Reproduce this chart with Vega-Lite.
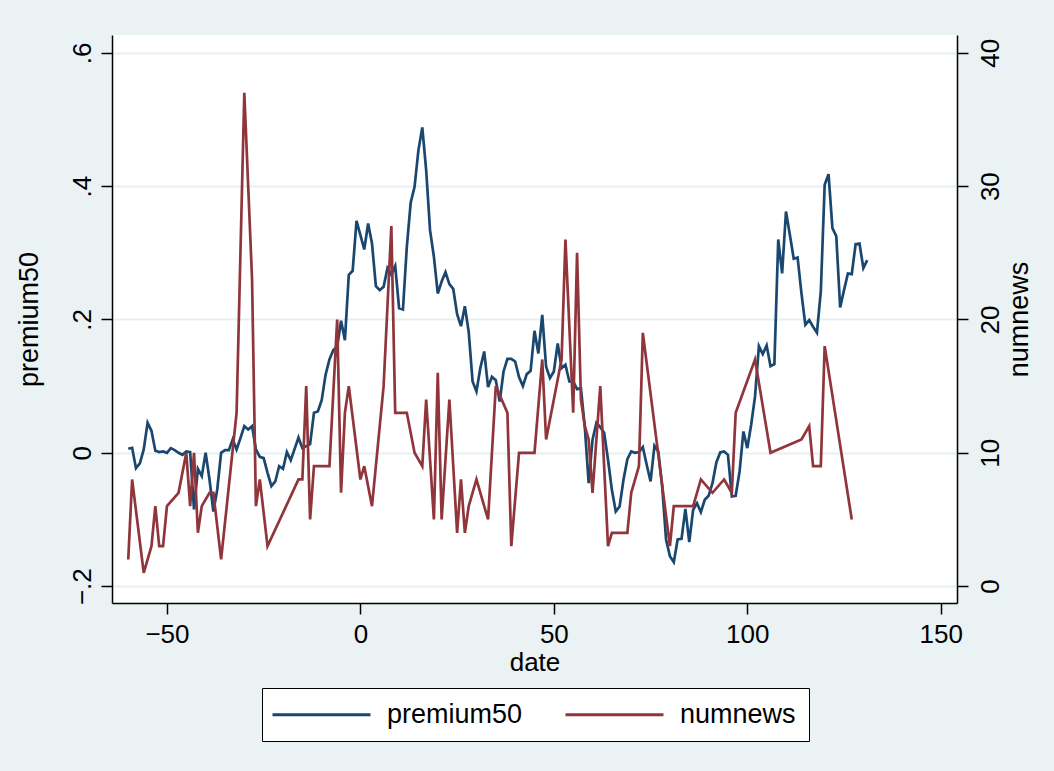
{
  "$schema": "https://vega.github.io/schema/vega-lite/v6.json",
  "autosize": {"type": "none"},
  "width": 845,
  "height": 568,
  "padding": {"left": 112, "top": 35, "right": 97, "bottom": 168},
  "background": "#EAF2F3",
  "config": {
    "view": {"fill": "white", "stroke": null},
    "font": "Liberation Sans",
    "axis": {
      "labelFont": "Liberation Sans",
      "titleFont": "Liberation Sans",
      "labelFontSize": 26,
      "titleFontSize": 26,
      "titleFontWeight": "normal",
      "labelColor": "black",
      "titleColor": "black",
      "domainColor": "black",
      "tickColor": "black",
      "domainWidth": 1.5,
      "tickWidth": 1.5,
      "tickSize": 11
    },
    "legend": {
      "orient": "none",
      "legendX": 150,
      "legendY": 653,
      "direction": "horizontal",
      "strokeColor": "black",
      "fillColor": "white",
      "padding": 13,
      "symbolType": "M-5,0H5",
      "symbolSize": 384,
      "symbolOffset": 33,
      "symbolStrokeWidth": 2.8,
      "labelFont": "Liberation Sans",
      "labelFontSize": 27,
      "labelColor": "black",
      "labelOffset": 52,
      "columnPadding": 36,
      "labelLimit": 0
    }
  },
  "datasets": {
    "premium": [
      {"date": -60, "premium50": 0.006}, {"date": -59, "premium50": 0.0075}, {"date": -58, "premium50": -0.023}, {"date": -57, "premium50": -0.016},
      {"date": -56, "premium50": 0.005}, {"date": -55, "premium50": 0.045}, {"date": -54, "premium50": 0.033}, {"date": -53, "premium50": 0.003},
      {"date": -52, "premium50": 0.001}, {"date": -51, "premium50": 0.002}, {"date": -50, "premium50": 0.0}, {"date": -49, "premium50": 0.007},
      {"date": -48, "premium50": 0.004}, {"date": -47, "premium50": 0.0}, {"date": -46, "premium50": -0.003}, {"date": -45, "premium50": 0.002},
      {"date": -44, "premium50": 0.001}, {"date": -43, "premium50": -0.085}, {"date": -42, "premium50": -0.024}, {"date": -41, "premium50": -0.035},
      {"date": -40, "premium50": 0.0}, {"date": -39, "premium50": -0.04}, {"date": -38, "premium50": -0.088}, {"date": -37, "premium50": -0.055},
      {"date": -36, "premium50": 0.0}, {"date": -35, "premium50": 0.004}, {"date": -34, "premium50": 0.004}, {"date": -33, "premium50": 0.02},
      {"date": -32, "premium50": 0.005}, {"date": -31, "premium50": 0.022}, {"date": -30, "premium50": 0.04}, {"date": -29, "premium50": 0.035},
      {"date": -28, "premium50": 0.04}, {"date": -27, "premium50": 0.005}, {"date": -26, "premium50": -0.006}, {"date": -25, "premium50": -0.008},
      {"date": -24, "premium50": -0.03}, {"date": -23, "premium50": -0.05}, {"date": -22, "premium50": -0.043}, {"date": -21, "premium50": -0.02},
      {"date": -20, "premium50": -0.024}, {"date": -19, "premium50": 0.001}, {"date": -18, "premium50": -0.011}, {"date": -16, "premium50": 0.023},
      {"date": -15, "premium50": 0.007}, {"date": -13, "premium50": 0.013}, {"date": -12, "premium50": 0.06}, {"date": -11, "premium50": 0.062},
      {"date": -10, "premium50": 0.079}, {"date": -9, "premium50": 0.117}, {"date": -8, "premium50": 0.14}, {"date": -7, "premium50": 0.154},
      {"date": -6, "premium50": 0.159}, {"date": -5, "premium50": 0.198}, {"date": -4, "premium50": 0.169}, {"date": -3, "premium50": 0.267},
      {"date": -2, "premium50": 0.273}, {"date": -1, "premium50": 0.348}, {"date": 1, "premium50": 0.305}, {"date": 2, "premium50": 0.344},
      {"date": 3, "premium50": 0.314}, {"date": 4, "premium50": 0.25}, {"date": 5, "premium50": 0.244}, {"date": 6, "premium50": 0.249},
      {"date": 7, "premium50": 0.277}, {"date": 8, "premium50": 0.267}, {"date": 9, "premium50": 0.28}, {"date": 10, "premium50": 0.217},
      {"date": 11, "premium50": 0.215}, {"date": 12, "premium50": 0.309}, {"date": 13, "premium50": 0.375}, {"date": 14, "premium50": 0.399},
      {"date": 15, "premium50": 0.454}, {"date": 16, "premium50": 0.488}, {"date": 17, "premium50": 0.424}, {"date": 18, "premium50": 0.334},
      {"date": 19, "premium50": 0.294}, {"date": 20, "premium50": 0.239}, {"date": 21, "premium50": 0.257}, {"date": 22, "premium50": 0.271},
      {"date": 23, "premium50": 0.253}, {"date": 24, "premium50": 0.246}, {"date": 25, "premium50": 0.208}, {"date": 26, "premium50": 0.19},
      {"date": 27, "premium50": 0.22}, {"date": 28, "premium50": 0.181}, {"date": 29, "premium50": 0.107}, {"date": 30, "premium50": 0.092},
      {"date": 31, "premium50": 0.127}, {"date": 32, "premium50": 0.152}, {"date": 33, "premium50": 0.0985}, {"date": 34, "premium50": 0.114},
      {"date": 35, "premium50": 0.109}, {"date": 36, "premium50": 0.077}, {"date": 37, "premium50": 0.122}, {"date": 38, "premium50": 0.141},
      {"date": 39, "premium50": 0.141}, {"date": 40, "premium50": 0.137}, {"date": 41, "premium50": 0.1135}, {"date": 42, "premium50": 0.1},
      {"date": 43, "premium50": 0.118}, {"date": 44, "premium50": 0.123}, {"date": 45, "premium50": 0.183}, {"date": 46, "premium50": 0.149},
      {"date": 47, "premium50": 0.207}, {"date": 48, "premium50": 0.129}, {"date": 49, "premium50": 0.112}, {"date": 50, "premium50": 0.122},
      {"date": 51, "premium50": 0.164}, {"date": 52, "premium50": 0.127}, {"date": 53, "premium50": 0.132}, {"date": 54, "premium50": 0.107},
      {"date": 55, "premium50": 0.107}, {"date": 56, "premium50": 0.0955}, {"date": 57, "premium50": 0.097}, {"date": 58, "premium50": 0.039},
      {"date": 59, "premium50": -0.0455}, {"date": 60, "premium50": 0.0195}, {"date": 61, "premium50": 0.045}, {"date": 62, "premium50": 0.0385},
      {"date": 63, "premium50": 0.03}, {"date": 64, "premium50": -0.0105}, {"date": 65, "premium50": -0.0555}, {"date": 66, "premium50": -0.088},
      {"date": 67, "premium50": -0.0805}, {"date": 68, "premium50": -0.0405}, {"date": 69, "premium50": -0.0095}, {"date": 70, "premium50": 0.002},
      {"date": 71, "premium50": 0.0}, {"date": 72, "premium50": 0.001}, {"date": 73, "premium50": 0.0085}, {"date": 74, "premium50": -0.018},
      {"date": 75, "premium50": -0.043}, {"date": 76, "premium50": 0.0105}, {"date": 77, "premium50": 0.002}, {"date": 78, "premium50": -0.0505},
      {"date": 79, "premium50": -0.13}, {"date": 80, "premium50": -0.155}, {"date": 81, "premium50": -0.164}, {"date": 82, "premium50": -0.13},
      {"date": 83, "premium50": -0.129}, {"date": 84, "premium50": -0.084}, {"date": 85, "premium50": -0.134}, {"date": 86, "premium50": -0.0855},
      {"date": 87, "premium50": -0.0755}, {"date": 88, "premium50": -0.089}, {"date": 89, "premium50": -0.0705}, {"date": 90, "premium50": -0.0645},
      {"date": 91, "premium50": -0.0455}, {"date": 92, "premium50": -0.0145}, {"date": 93, "premium50": 0.0005}, {"date": 94, "premium50": 0.002},
      {"date": 95, "premium50": -0.003}, {"date": 96, "premium50": -0.0655}, {"date": 97, "premium50": -0.0645}, {"date": 98, "premium50": -0.028},
      {"date": 99, "premium50": 0.032}, {"date": 100, "premium50": 0.007}, {"date": 101, "premium50": 0.042}, {"date": 102, "premium50": 0.0845},
      {"date": 103, "premium50": 0.16}, {"date": 104, "premium50": 0.148}, {"date": 105, "premium50": 0.161}, {"date": 106, "premium50": 0.13},
      {"date": 107, "premium50": 0.133}, {"date": 108, "premium50": 0.32}, {"date": 109, "premium50": 0.269}, {"date": 110, "premium50": 0.362},
      {"date": 111, "premium50": 0.327}, {"date": 112, "premium50": 0.291}, {"date": 113, "premium50": 0.293}, {"date": 114, "premium50": 0.239},
      {"date": 115, "premium50": 0.192}, {"date": 116, "premium50": 0.199}, {"date": 117, "premium50": 0.189}, {"date": 118, "premium50": 0.18},
      {"date": 119, "premium50": 0.242}, {"date": 120, "premium50": 0.402}, {"date": 121, "premium50": 0.418}, {"date": 122, "premium50": 0.337},
      {"date": 123, "premium50": 0.325}, {"date": 124, "premium50": 0.218}, {"date": 125, "premium50": 0.244}, {"date": 126, "premium50": 0.269},
      {"date": 127, "premium50": 0.268}, {"date": 128, "premium50": 0.313}, {"date": 129, "premium50": 0.314}, {"date": 130, "premium50": 0.277},
      {"date": 131, "premium50": 0.289}
    ],
    "news": [
      {"date": -60, "numnews": 2}, {"date": -59, "numnews": 8}, {"date": -56, "numnews": 1}, {"date": -54, "numnews": 3},
      {"date": -53, "numnews": 6}, {"date": -52, "numnews": 3}, {"date": -51, "numnews": 3}, {"date": -50, "numnews": 6},
      {"date": -47, "numnews": 7}, {"date": -45, "numnews": 10}, {"date": -44, "numnews": 6}, {"date": -43, "numnews": 10},
      {"date": -42, "numnews": 4}, {"date": -41, "numnews": 6}, {"date": -39, "numnews": 7}, {"date": -38, "numnews": 7},
      {"date": -36, "numnews": 2}, {"date": -32, "numnews": 13}, {"date": -30, "numnews": 37}, {"date": -28, "numnews": 23},
      {"date": -27, "numnews": 6}, {"date": -26, "numnews": 8}, {"date": -24, "numnews": 3}, {"date": -16, "numnews": 8},
      {"date": -15, "numnews": 8}, {"date": -14, "numnews": 15}, {"date": -13, "numnews": 5}, {"date": -12, "numnews": 9},
      {"date": -8, "numnews": 9}, {"date": -6, "numnews": 20}, {"date": -5, "numnews": 7}, {"date": -4, "numnews": 13},
      {"date": -3, "numnews": 15}, {"date": 0, "numnews": 8}, {"date": 1, "numnews": 9}, {"date": 3, "numnews": 6},
      {"date": 6, "numnews": 15}, {"date": 8, "numnews": 27}, {"date": 9, "numnews": 13}, {"date": 12, "numnews": 13},
      {"date": 14, "numnews": 10}, {"date": 16, "numnews": 9}, {"date": 17, "numnews": 14}, {"date": 19, "numnews": 5},
      {"date": 20, "numnews": 16}, {"date": 21, "numnews": 5}, {"date": 23, "numnews": 14}, {"date": 25, "numnews": 4},
      {"date": 26, "numnews": 8}, {"date": 27, "numnews": 4}, {"date": 28, "numnews": 6}, {"date": 30, "numnews": 8},
      {"date": 33, "numnews": 5}, {"date": 35, "numnews": 15}, {"date": 38, "numnews": 13}, {"date": 39, "numnews": 3},
      {"date": 41, "numnews": 10}, {"date": 45, "numnews": 10}, {"date": 47, "numnews": 17}, {"date": 48, "numnews": 11},
      {"date": 52, "numnews": 17}, {"date": 53, "numnews": 26}, {"date": 55, "numnews": 13}, {"date": 56, "numnews": 25},
      {"date": 57, "numnews": 14}, {"date": 58, "numnews": 12}, {"date": 59, "numnews": 11}, {"date": 60, "numnews": 7},
      {"date": 62, "numnews": 15}, {"date": 64, "numnews": 3}, {"date": 65, "numnews": 4}, {"date": 69, "numnews": 4},
      {"date": 70, "numnews": 7}, {"date": 72, "numnews": 9}, {"date": 73, "numnews": 19}, {"date": 80, "numnews": 3},
      {"date": 81, "numnews": 6}, {"date": 86, "numnews": 6}, {"date": 88, "numnews": 8}, {"date": 91, "numnews": 7},
      {"date": 94, "numnews": 8}, {"date": 96, "numnews": 7}, {"date": 97, "numnews": 13}, {"date": 102, "numnews": 17},
      {"date": 106, "numnews": 10}, {"date": 114, "numnews": 11}, {"date": 116, "numnews": 12}, {"date": 117, "numnews": 9},
      {"date": 119, "numnews": 9}, {"date": 120, "numnews": 18}, {"date": 127, "numnews": 5}
    ]
  },
  "layer": [
    {
      "data": {"name": "premium"},
      "mark": {"type": "line", "strokeWidth": 2.7, "interpolate": "linear"},
      "encoding": {
        "x": {
          "field": "date", "type": "quantitative",
          "scale": {"domain": [-64.2, 154.2], "nice": false, "zero": false},
          "axis": {"title": "date", "values": [-50, 0, 50, 100, 150], "grid": false, "labelPadding": 7, "titlePadding": 2, "labelFlush": false}
        },
        "y": {
          "field": "premium50", "type": "quantitative",
          "scale": {"domain": [-0.2253, 0.6267], "nice": false, "zero": false},
          "axis": {
            "title": "premium50", "orient": "left", "values": [-0.2, 0, 0.2, 0.4, 0.6],
            "labelExpr": "datum.value == 0 ? '0' : replace(format(datum.value, '.1f'), '0.', '.')",
            "labelAngle": 270, "labelAlign": "center", "labelBaseline": "bottom", "labelPadding": 6,
            "titleAngle": 270, "titleBaseline": "bottom", "titlePadding": 26,
            "titleFontSize": 27,
            "grid": true, "gridColor": "#E6EFF1", "gridWidth": 1.8
          }
        },
        "color": {
          "datum": "premium50", "type": "nominal",
          "scale": {"domain": ["premium50", "numnews"], "range": ["#1a476f", "#90353b"]},
          "legend": {"title": null}
        }
      }
    },
    {
      "data": {"name": "news"},
      "mark": {"type": "line", "strokeWidth": 2.7, "interpolate": "linear"},
      "encoding": {
        "x": {"field": "date", "type": "quantitative"},
        "y": {
          "field": "numnews", "type": "quantitative",
          "scale": {"domain": [-1.265, 41.335], "nice": false, "zero": false},
          "axis": {
            "title": "numnews", "orient": "right", "values": [0, 10, 20, 30, 40],
            "labelAngle": 270, "labelAlign": "center", "labelBaseline": "top", "labelPadding": 9,
            "titleAngle": 270, "titleBaseline": "top", "titlePadding": 3,
            "titleFontSize": 27,
            "grid": false
          }
        },
        "color": {"datum": "numnews", "type": "nominal"}
      }
    }
  ],
  "resolve": {"scale": {"y": "independent"}}
}
